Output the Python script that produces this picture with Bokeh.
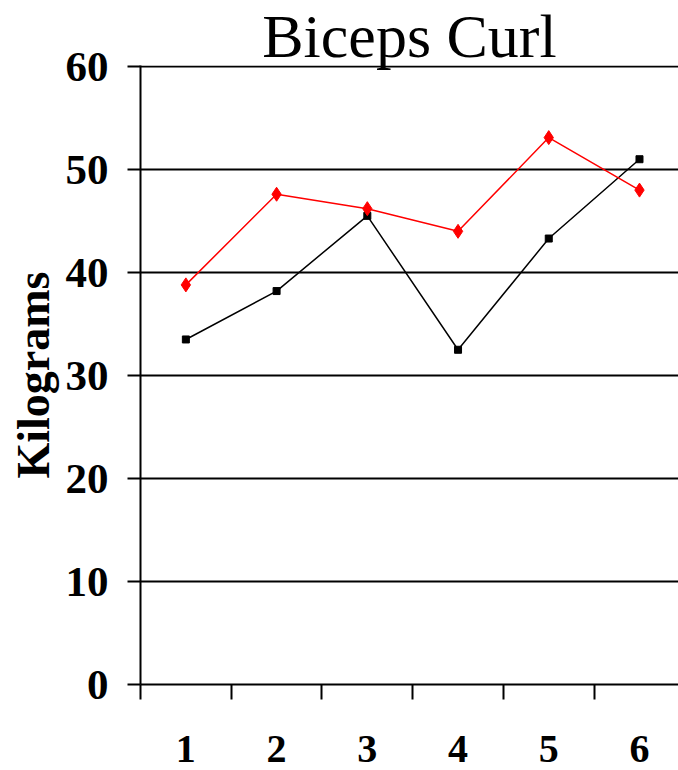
from bokeh.plotting import figure
from bokeh.models import FixedTicker, Range1d
from bokeh.embed import file_html
from bokeh.resources import INLINE

sessions = [1, 2, 3, 4, 5, 6]
session_labels = ["1", "2", "3", "4", "5", "6"]
series_black = [33.5, 38.2, 45.5, 32.5, 43.3, 51.0]
series_red = [38.8, 47.6, 46.2, 44.0, 53.1, 48.0]
y_ticks = [0, 10, 20, 30, 40, 50, 60]
title_text = "Biceps Curl"
y_title = "Kilograms"

FONT = "Liberation Serif"

p = figure(width=678, height=770, output_backend="svg", toolbar_location=None,
           x_range=Range1d(0.5, 6.43), y_range=Range1d(0, 60.1),
           min_border_left=140, min_border_right=0, min_border_top=65,
           min_border_bottom=86)
p.outline_line_color = None
p.background_fill_color = "white"
p.border_fill_color = "white"

p.title.text = title_text
p.title.text_font = FONT
p.title.text_font_size = "62px"
p.title.text_font_style = "normal"
p.title.text_color = "black"
p.title.align = "center"
p.title.standoff = -8
p.title.offset = 0

# y axis
ya = p.yaxis[0]
ya.ticker = FixedTicker(ticks=y_ticks)
ya.axis_line_width = 2
ya.axis_line_color = "black"
ya.major_tick_line_width = 2
ya.major_tick_line_color = "black"
ya.major_tick_out = 13
ya.major_tick_in = 0
ya.minor_tick_line_color = None
ya.major_label_text_font = FONT
ya.major_label_text_font_style = "bold"
ya.major_label_text_font_size = "43px"
ya.major_label_text_color = "black"
ya.major_label_standoff = 19
ya.axis_label = y_title
ya.axis_label_text_font = FONT
ya.axis_label_text_font_style = "bold"
ya.axis_label_text_font_size = "46px"
ya.axis_label_text_color = "black"
ya.axis_label_standoff = 4

# x axis: labels at centers, ticks at boundaries (as minor ticks)
xa = p.xaxis[0]
xa.ticker = FixedTicker(ticks=sessions, minor_ticks=[s - 0.5 for s in sessions] + [6.5])
xa.major_label_overrides = {s: l for s, l in zip(sessions, session_labels)}
xa.axis_line_width = 2
xa.axis_line_color = "black"
xa.major_tick_out = 0
xa.major_tick_in = 0
xa.major_tick_line_color = None
xa.minor_tick_out = 15
xa.minor_tick_in = 0
xa.minor_tick_line_width = 2
xa.minor_tick_line_color = "black"
xa.major_label_text_font = FONT
xa.major_label_text_font_style = "bold"
xa.major_label_text_font_size = "40px"
xa.major_label_text_color = "black"
xa.major_label_standoff = 36

p.xgrid.grid_line_color = None
p.ygrid.grid_line_color = "black"
p.ygrid.grid_line_width = 2
p.ygrid.ticker = FixedTicker(ticks=y_ticks)

p.line(sessions, series_black, line_color="black", line_width=1.5)
p.scatter(sessions, series_black, marker="square", size=7, color="black")
p.line(sessions, series_red, line_color="red", line_width=1.5)
p.scatter(sessions, series_red, marker="diamond", size=14, color="red")

open("out.html", "w").write(file_html(p, INLINE))
